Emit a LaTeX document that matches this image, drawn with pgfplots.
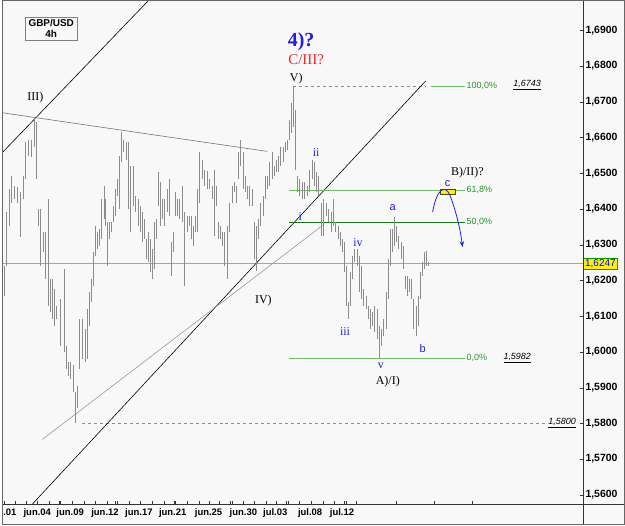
\documentclass[border=0pt]{standalone}
\usepackage{pgfplots}
\usepackage{pgfplotstable}
\pgfplotsset{compat=1.18}
\usetikzlibrary{arrows.meta}
\usepackage{fontspec}
\setmainfont{Liberation Sans}
\newfontfamily\serif{Liberation Serif}
\definecolor{bgc}{RGB}{248,248,248}
\definecolor{barcol}{RGB}{140,140,140}
\definecolor{olive}{RGB}{175,175,80}
\definecolor{fibg}{RGB}{40,150,40}
\definecolor{fiblight}{RGB}{110,190,100}
\definecolor{fibdark}{RGB}{20,120,20}
\definecolor{wblue}{RGB}{30,30,230}
\definecolor{wred}{RGB}{240,40,40}
\pgfplotstableread{
x h l
2 1.6240 1.6157
4 1.6391 1.6240
7 1.6455 1.6352
9 1.6491 1.6418
12 1.6463 1.6427
15 1.6460 1.6418
18 1.6446 1.6321
21 1.6491 1.6427
23 1.6586 1.6483
26 1.6594 1.6547
29 1.6594 1.6544
32 1.6655 1.6574
34 1.6644 1.6483
36 1.6399 1.6352
38 1.6399 1.6240
41 1.6335 1.6279
43 1.6335 1.6204
46 1.6427 1.6129
48 1.6204 1.6112
50 1.6204 1.6092
52 1.6176 1.6073
54 1.6129 1.6092
58 1.6148 1.6017
62 1.6232 1.6001
64 1.6017 1.5953
66 1.5973 1.5934
68 1.5973 1.5925
71 1.5962 1.5889
73 1.5889 1.5800
75 1.5906 1.5842
77 1.6092 1.5953
80 1.6092 1.5981
83 1.6065 1.5973
85 1.6120 1.5981
87 1.6168 1.6073
89 1.6204 1.6140
91 1.6279 1.6184
93 1.6352 1.6268
95 1.6335 1.6288
97 1.6343 1.6296
99 1.6427 1.6315
102 1.6463 1.6371
104 1.6427 1.6352
106 1.6363 1.6240
108 1.6363 1.6315
110 1.6363 1.6335
112 1.6407 1.6363
114 1.6455 1.6379
116 1.6483 1.6435
118 1.6547 1.6399
120 1.6616 1.6530
122 1.6594 1.6558
125 1.6586 1.6538
127 1.6586 1.6399
129 1.6519 1.6335
132 1.6519 1.6407
134 1.6435 1.6391
137 1.6427 1.6352
139 1.6407 1.6335
141 1.6391 1.6307
143 1.6371 1.6315
145 1.6315 1.6260
147 1.6335 1.6251
149 1.6315 1.6223
151 1.6288 1.6204
153 1.6363 1.6232
155 1.6371 1.6315
157 1.6502 1.6407
159 1.6474 1.6352
161 1.6427 1.6371
163 1.6427 1.6352
166 1.6455 1.6391
168 1.6483 1.6379
170 1.6307 1.6212
172 1.6335 1.6279
174 1.6446 1.6379
176 1.6427 1.6379
178 1.6427 1.6371
181 1.6463 1.6363
183 1.6391 1.6184
186 1.6379 1.6335
188 1.6379 1.6352
190 1.6379 1.6315
192 1.6352 1.6296
194 1.6379 1.6335
196 1.6455 1.6335
198 1.6558 1.6418
201 1.6538 1.6483
203 1.6510 1.6463
206 1.6505 1.6455
208 1.6483 1.6455
211 1.6463 1.6427
213 1.6510 1.6324
215 1.6463 1.6407
217 1.6363 1.6315
219 1.6352 1.6315
221 1.6335 1.6296
223 1.6335 1.6240
226 1.6352 1.6204
228 1.6418 1.6335
231 1.6463 1.6418
233 1.6474 1.6446
235 1.6463 1.6418
237 1.6558 1.6483
239 1.6594 1.6519
242 1.6558 1.6455
244 1.6491 1.6446
246 1.6463 1.6427
248 1.6463 1.6407
251 1.6455 1.6407
253 1.6363 1.6260
255 1.6352 1.6226
257 1.6371 1.6315
259 1.6418 1.6352
262 1.6435 1.6379
264 1.6491 1.6427
266 1.6491 1.6455
268 1.6530 1.6463
271 1.6558 1.6483
273 1.6519 1.6491
275 1.6538 1.6502
277 1.6547 1.6502
279 1.6574 1.6519
282 1.6574 1.6530
284 1.6586 1.6558
286 1.6594 1.6566
288 1.6650 1.6594
290 1.6697 1.6613
292 1.6743 1.6630
294 1.6678 1.6510
296 1.6491 1.6446
298 1.6483 1.6435
301 1.6474 1.6427
303 1.6474 1.6427
306 1.6463 1.6435
308 1.6510 1.6446
311 1.6538 1.6483
313 1.6530 1.6463
315 1.6502 1.6446
317 1.6491 1.6435
320 1.6418 1.6324
322 1.6427 1.6324
325 1.6418 1.6379
327 1.6399 1.6363
330 1.6391 1.6335
332 1.6427 1.6352
334 1.6363 1.6335
337 1.6352 1.6315
339 1.6335 1.6296
342 1.6315 1.6279
344 1.6307 1.6223
346 1.6240 1.6129
348 1.6140 1.6092
350 1.6223 1.6129
352 1.6268 1.6204
354 1.6288 1.6251
357 1.6288 1.6240
359 1.6268 1.6168
361 1.6240 1.6148
363 1.6176 1.6129
366 1.6157 1.6120
368 1.6129 1.6092
370 1.6120 1.6065
372 1.6112 1.6073
374 1.6129 1.6056
377 1.6120 1.6037
379 1.6073 1.5982
381 1.6065 1.6017
383 1.6092 1.6045
386 1.6168 1.6065
388 1.6260 1.6148
390 1.6343 1.6240
392 1.6343 1.6279
394 1.6377 1.6296
396 1.6352 1.6307
398 1.6324 1.6288
401 1.6307 1.6260
403 1.6296 1.6232
405 1.6212 1.6176
407 1.6212 1.6157
409 1.6204 1.6168
411 1.6204 1.6148
413 1.6148 1.6065
416 1.6129 1.6045
418 1.6157 1.6073
420 1.6223 1.6148
422 1.6251 1.6212
424 1.6279 1.6232
426 1.6282 1.6240
428 1.6251 1.6240
}\bars
\begin{document}
\begin{tikzpicture}
\fill[bgc] (0pt,0pt) rectangle (625pt,527pt);
\begin{axis}[
  at={(0pt,21pt)}, anchor=south west,
  scale only axis, width=583pt, height=506pt,
  xmin=0, xmax=583, ymin=1.55743, ymax=1.6984,
  axis line style={draw=black!80},
  clip mode=individual,
  tick align=inside, major tick length=3pt,
  xtick pos=bottom, ytick pos=right, yticklabel pos=right,
  xtick={2,13,24,35,47,57,58,70,82,93,105,113,115,127,138,150,162,172,173,185,197,208,218,229,231,242,253,265,275,285,287,298,310,322,333,343,345,355,395,433,472},
  xticklabels={},
  extra x ticks={7.5,35,68,103,137,171,207,242,274,309,341},
  extra x tick labels={.01,jun.04,jun.09,jun.12,jun.17,jun.21,jun.25,jun.30,jul.03,jul.08,jul.12},
  extra x tick style={major tick length=0pt, tick style={draw=none}},
  xticklabel style={font=\bfseries\fontsize{9.5}{11}\selectfont, yshift=-1pt},
  ytick={1.56,1.57,1.58,1.59,1.60,1.61,1.62,1.63,1.64,1.65,1.66,1.67,1.68,1.69},
  yticklabel style={font=\bfseries\fontsize{10.5}{12}\selectfont, xshift=-1pt,
    /pgf/number format/.cd, fixed, fixed zerofill, precision=4, use comma, 1000 sep={}, assume math mode=true},
  tick style={black!80},
]
% reference horizontal lines
\addplot[olive, line width=1.2pt] coordinates {(0,1.6247) (583,1.6247)};
\addplot[black!45, dashed, line width=0.7pt] coordinates {(80,1.5800) (545,1.5800)};
\addplot[black!45, dashed, line width=0.7pt] coordinates {(292,1.6743) (425,1.6743)};
% trend lines
\addplot[black, line width=0.6pt] coordinates {(0,1.6558) (147,1.6984)};
\addplot[black, line width=0.6pt] coordinates {(30,1.5574) (425,1.6758)};
\addplot[black!40, line width=0.6pt] coordinates {(40,1.5755) (323,1.6357)};
\addplot[black!55, line width=0.6pt] coordinates {(0,1.6669) (266,1.6561)};
% fibonacci levels
\addplot[fiblight, line width=1pt] coordinates {(430,1.6743) (465,1.6743)};
\addplot[fiblight, line width=1pt] coordinates {(288,1.6452) (465,1.6452)};
\addplot[fibdark, line width=1pt] coordinates {(288,1.63625) (465,1.63625)};
\addplot[fiblight, line width=1pt] coordinates {(288,1.5982) (465,1.5982)};
% OHLC bars (high-low ranges)
\addplot[draw=none, mark=none,
  error bars/.cd, y dir=minus, y explicit, error mark=none,
  error bar style={draw=barcol, solid, line width=1pt}]
  table[x=x, y=h, y error expr=\thisrow{h}-\thisrow{l}] {\bars};
% fib labels
\node[anchor=west, text=fibg, font=\fontsize{9}{10}\selectfont, inner sep=0] at (axis cs:466,1.6743) {100,0\%};
\node[anchor=west, font=\itshape\fontsize{9}{10}\selectfont, inner sep=0] at (axis cs:513,1.6747) {\underline{1,6743}};
\node[anchor=west, text=fibg, font=\fontsize{9}{10}\selectfont, inner sep=0] at (axis cs:466,1.6452) {61,8\%};
\node[anchor=west, text=fibg, font=\fontsize{9}{10}\selectfont, inner sep=0] at (axis cs:466,1.63625) {50,0\%};
\node[anchor=west, text=fibg, font=\fontsize{9}{10}\selectfont, inner sep=0] at (axis cs:466,1.5982) {0,0\%};
\node[anchor=west, font=\itshape\fontsize{9}{10}\selectfont, inner sep=0] at (axis cs:503,1.5984) {\underline{1,5982}};
\node[anchor=west, font=\itshape\fontsize{9}{10}\selectfont, inner sep=0] at (axis cs:548,1.5802) {\underline{1,5800}};
% wave labels
\node[text=wblue, font=\serif\bfseries\fontsize{20}{22}\selectfont] at (axis cs:300,1.6868) {4)?};
\node[text=wred, font=\serif\fontsize{15}{17}\selectfont] at (axis cs:305,1.6817) {C/III?};
\node[font=\serif\fontsize{12}{14}\selectfont] at (axis cs:295,1.6764) {V)};
\node[font=\serif\fontsize{12}{14}\selectfont] at (axis cs:33,1.6711) {III)};
\node[font=\serif\fontsize{12}{14}\selectfont] at (axis cs:262,1.6143) {IV)};
\node[font=\serif\fontsize{12}{14}\selectfont] at (axis cs:387,1.5917) {A)/I)};
\node[font=\serif\fontsize{12}{14}\selectfont] at (axis cs:467,1.6502) {B)/II)?};
\node[text=wblue, font=\serif\fontsize{12}{14}\selectfont] at (axis cs:315,1.6558) {ii};
\node[text=wblue, font=\serif\fontsize{12}{14}\selectfont] at (axis cs:299,1.6379) {i};
\node[text=wblue, font=\serif\fontsize{12}{14}\selectfont] at (axis cs:344,1.6056) {iii};
\node[text=wblue, font=\serif\fontsize{12}{14}\selectfont] at (axis cs:357,1.6307) {iv};
\node[text=wblue, font=\serif\fontsize{12}{14}\selectfont] at (axis cs:380,1.5962) {v};
\node[text=wblue, font=\fontsize{11}{13}\selectfont] at (axis cs:392,1.6405) {a};
\node[text=wblue, font=\fontsize{11}{13}\selectfont] at (axis cs:422,1.6009) {b};
\node[text=wblue, font=\fontsize{11}{13}\selectfont] at (axis cs:447,1.6471) {c};
% target box and arrow
\draw[fill=yellow, draw=black!60!olive, line width=0.6pt] (axis cs:440,1.6455) rectangle (axis cs:455,1.6441);
\draw[wblue, line width=0.8pt, -{Stealth[length=6pt]}] (axis cs:432,1.6391) .. controls (axis cs:436,1.6455) and (axis cs:444,1.6469) .. (axis cs:449,1.6441) .. controls (axis cs:455,1.6399) and (axis cs:460,1.6343) .. (axis cs:462,1.6293);
% GBP/USD box
\node[draw=black!50, fill=bgc, align=center, font=\bfseries\fontsize{10}{11.5}\selectfont, inner xsep=3pt, inner ysep=2pt, minimum width=53pt] at (axis cs:49,1.6905) {GBP/USD\\4h};
% last price box
\node[anchor=west, fill=yellow, draw=green!60!black, text=blue, font=\fontsize{10}{11}\selectfont, inner xsep=1.5pt, inner ysep=1.5pt] at (axis cs:583.5,1.6247) {1,6247};
\end{axis}
\draw[black!80] (583pt,0pt) -- (583pt,527pt);
\draw[black!80] (0pt,21pt) -- (625pt,21pt);
\draw[black!60, line width=1pt] (0.5pt,0.5pt) rectangle (624.5pt,526.5pt);
\end{tikzpicture}
\end{document}
